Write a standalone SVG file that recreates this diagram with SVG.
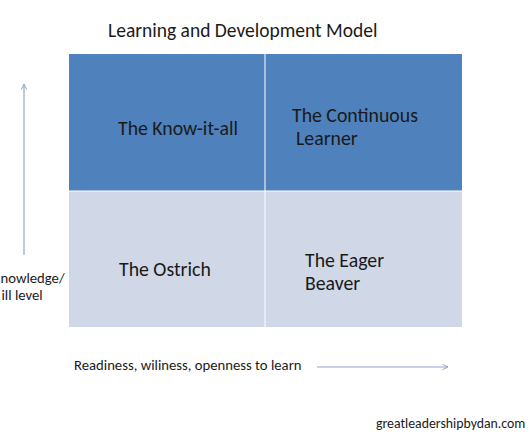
<svg xmlns="http://www.w3.org/2000/svg" width="530" height="442" viewBox="0 0 530 442">
<style>
text{font-family:Carlito,"Open Sans","Liberation Sans",sans-serif;fill:#1a1a1a}
.q{font-size:19.8px}
.s{font-size:14.7px}
.top{fill:#4F81BD}
.bot{fill:#D0D8E8}
.ax{stroke:#8FA6C9;stroke-width:1.2;fill:none}
</style>
<defs>
<marker id="ah" viewBox="0 0 10 10" refX="9" refY="5" markerWidth="7" markerHeight="7" orient="auto" markerUnits="userSpaceOnUse">
<path d="M1,1 L9,5 L1,9" fill="none" stroke="#8FA6C9" stroke-width="1.4"/>
</marker>
</defs>
<rect width="530" height="442" fill="#fff"/>
<text x="108" y="37" style="font-size:19.5px">Learning and Development Model</text>
<g id="know-it-all"><rect class="top" x="69" y="54" width="195.5" height="136.5"/><text class="q" x="118" y="135">The Know-it-all</text></g>
<g id="continuous-learner"><rect class="top" x="265.5" y="54" width="196.5" height="136.5"/><text class="q" x="292" y="122">The Continuous</text><text class="q" x="296" y="145">Learner</text></g>
<g id="ostrich"><rect class="bot" x="69" y="191.5" width="195.5" height="135.5"/><text class="q" x="119" y="276">The Ostrich</text></g>
<g id="eager-beaver"><rect class="bot" x="265.5" y="191.5" width="196.5" height="135.5"/><text class="q" x="305" y="267">The Eager</text><text class="q" x="305" y="290">Beaver</text></g>
<g id="connectors">
<line class="ax" x1="24" y1="255" x2="24" y2="84" marker-end="url(#ah)"/>
<line class="ax" x1="317" y1="367" x2="448" y2="367" marker-end="url(#ah)"/>
</g>
<text class="s" x="0.5" y="283">nowledge/</text>
<text class="s" x="1.5" y="300">ill level</text>
<text class="s" x="74" y="370">Readiness, wiliness, openness to learn</text>
<text x="376" y="428" style="font-size:13.8px">greatleadershipbydan.com</text>
</svg>
